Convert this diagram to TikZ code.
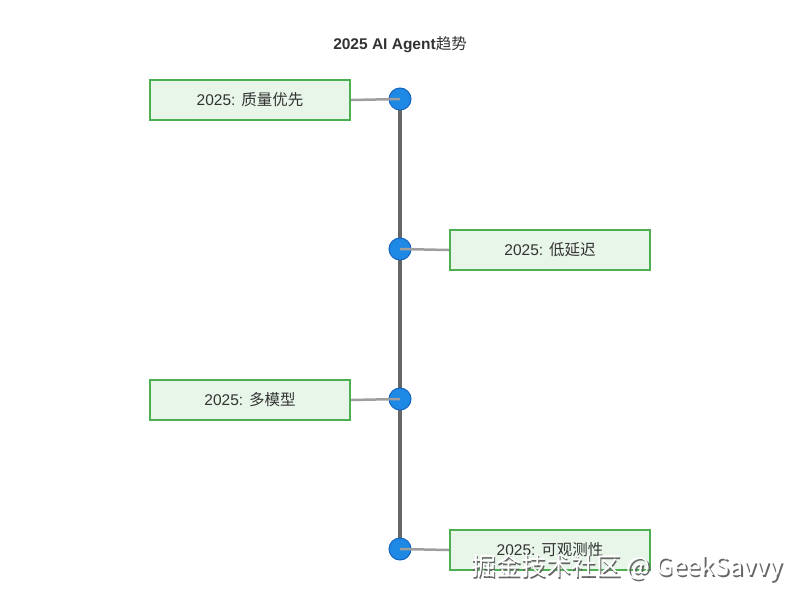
\documentclass[tikz,border=0pt]{standalone}
\usepackage{fontspec}
\setmainfont{Liberation Sans}
\newfontfamily\cjk{Noto Sans CJK SC}
\definecolor{boxfill}{HTML}{E8F5E9}
\definecolor{boxline}{HTML}{4CAF50}
\definecolor{axis}{HTML}{666666}
\definecolor{conn}{HTML}{9E9E9E}
\definecolor{dotfill}{HTML}{1E88E5}
\definecolor{dotline}{HTML}{1565C0}
\definecolor{txt}{HTML}{333333}
\begin{document}
\begin{tikzpicture}[x=1pt,y=-1pt,
  evbox/.style={draw=boxline,line width=2.2pt,fill=boxfill,minimum width=200pt,minimum height=40pt,
     inner sep=0pt,font=\fontsize{15.5}{18}\selectfont,text=txt},
  evdot/.style={circle,draw=dotline,line width=1pt,fill=dotfill,minimum size=22pt,inner sep=0pt},
  link/.style={draw=conn,line width=2.5pt},
  axisline/.style={draw=axis,line width=4pt}]
\useasboundingbox (0,0) rectangle (800,600);
\node[font=\fontsize{15.5}{18}\selectfont,text=txt] (title) at (400,45) {\textbf{2025 AI Agent}{\cjk 趋势}};
\coordinate (top) at (400,99);
\coordinate (bot) at (400,549);
\draw[axisline] (top) -- (bot);
\node[evbox] (b1) at (250,100) {2025: {\cjk 质量优先}};
\node[evbox] (b2) at (550,250) {2025: {\cjk 低延迟}};
\node[evbox] (b3) at (250,400) {2025: {\cjk 多模型}};
\node[evbox] (b4) at (550,550) {2025: {\cjk 可观测性}};
\node[evdot] (d1) at (400,99) {};
\node[evdot] (d2) at (400,249) {};
\node[evdot] (d3) at (400,399) {};
\node[evdot] (d4) at (400,549) {};
\draw[link] (b1.east) -- (d1.center);
\draw[link] (b2.west) -- (d2.center);
\draw[link] (b3.east) -- (d3.center);
\draw[link] (b4.west) -- (d4.center);
\node[font=\cjk\fontsize{25}{28}\selectfont,text=black!60] (wm0) at (628.8,569.8) {掘金技术社区 @ GeekSavvy};
\node[font=\cjk\fontsize{25}{28}\selectfont,text=white] (wm) at (627,568) {掘金技术社区 @ GeekSavvy};
\end{tikzpicture}
\end{document}
